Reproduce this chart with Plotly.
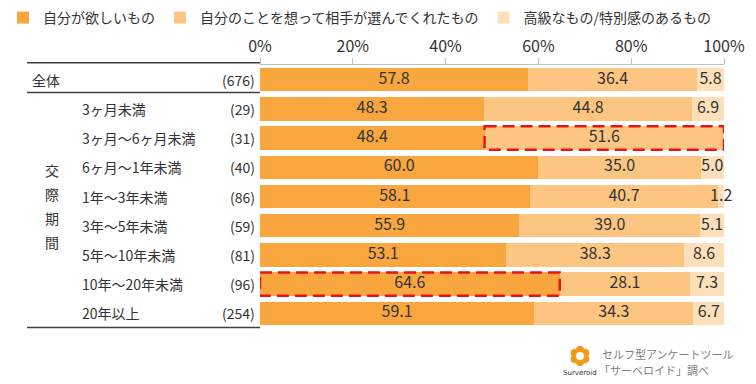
import math
import plotly.graph_objects as go

# ---- data ----
row_labels = ["全体", "3ヶ月未満", "3ヶ月～6ヶ月未満", "6ヶ月～1年未満", "1年～3年未満",
              "3年～5年未満", "5年～10年未満", "10年～20年未満", "20年以上"]
row_counts = ["(676)", "(29)", "(31)", "(40)", "(86)", "(59)", "(81)", "(96)", "(254)"]
series_names = ["自分が欲しいもの", "自分のことを想って相手が選んでくれたもの", "高級なもの/特別感のあるもの"]
s1 = [57.8, 48.3, 48.4, 60.0, 58.1, 55.9, 53.1, 64.6, 59.1]
s2 = [36.4, 44.8, 51.6, 35.0, 40.7, 39.0, 38.3, 28.1, 34.3]
s3 = [5.8, 6.9, 0.0, 5.0, 1.2, 5.1, 8.6, 7.3, 6.7]
tick_vals = [0, 20, 40, 60, 80, 100]
tick_text = ["0%", "20%", "40%", "60%", "80%", "100%"]
group_label = "交際期間"
highlights = [(2, 1), (7, 0)]  # (row index, series index)

colors = ["#F9A63E", "#FCC682", "#FDE0BA"]
FONT = "Noto Sans CJK JP"
TXT = "#333333"

W, H = 756, 384
ML, MR, MT, MB = 260, 32, 65, 56
PW, PH = W - ML - MR, H - MT - MB


def px_x(p):
    return (p - ML) / PW


def px_y(p):
    return (H - MB - p) / PH


rows = list(range(len(row_labels)))
series = [s1, s2, s3]

fig = go.Figure()
for name, vals, col in zip(series_names, series, colors):
    fig.add_trace(go.Bar(
        y=rows, x=vals, name=name, orientation="h", width=0.8,
        marker=dict(color=col, line=dict(width=0)),
        textposition="none", hoverinfo="skip",
    ))

# data labels, centred in each segment
base = [0.0] * len(rows)
for vals in series:
    xs, ys, ts = [], [], []
    for i, v in enumerate(vals):
        if v > 0:
            xs.append(base[i] + v / 2)
            ys.append(i)
            ts.append("%.1f" % v)
        base[i] += v
    fig.add_trace(go.Scatter(
        x=xs, y=ys, text=ts, mode="text", showlegend=False, hoverinfo="skip",
        textfont=dict(size=16, color=TXT, family=FONT), cliponaxis=False,
    ))

annotations = []
for i, (lab, cnt) in enumerate(zip(row_labels, row_counts)):
    annotations.append(dict(
        x=px_x(30 if i == 0 else 80), xref="paper", y=i, yref="y",
        text=lab, showarrow=False, xanchor="left", yanchor="middle",
        font=dict(size=14, color=TXT, family=FONT)))
    annotations.append(dict(
        x=px_x(257), xref="paper", y=i, yref="y",
        text=cnt, showarrow=False, xanchor="right", yanchor="middle",
        font=dict(size=14, color=TXT, family=FONT)))

char_y = [170, 194, 218, 242]
for ch, py in zip(group_label, char_y):
    annotations.append(dict(
        x=px_x(52), xref="paper", y=px_y(py), yref="paper",
        text=ch, showarrow=False, xanchor="center", yanchor="middle",
        font=dict(size=14, color=TXT, family=FONT)))

# source credit
annotations.append(dict(
    x=px_x(600), xref="paper", y=px_y(354), yref="paper",
    text="セルフ型アンケートツール", showarrow=False, xanchor="left", yanchor="middle",
    font=dict(size=11, color="#808080", family=FONT)))
annotations.append(dict(
    x=px_x(597), xref="paper", y=px_y(370), yref="paper",
    text="「サーベロイド」調べ", showarrow=False, xanchor="left", yanchor="middle",
    font=dict(size=11, color="#808080", family=FONT)))
annotations.append(dict(
    x=px_x(580), xref="paper", y=px_y(373), yref="paper",
    text="Surveroid", showarrow=False, xanchor="center", yanchor="middle",
    font=dict(size=7, color="#333333", family="DejaVu Sans")))

shapes = []
# table rules
for py in [62.7, 92.5, 327.5]:
    shapes.append(dict(type="line", xref="paper", yref="paper",
                       x0=px_x(27), x1=0, y0=px_y(py), y1=px_y(py),
                       line=dict(color="#404040", width=1.5)))

# highlight boxes
for r, s in highlights:
    x0 = sum(series[k][r] for k in range(s))
    x1 = x0 + series[s][r]
    shapes.append(dict(type="rect", xref="x", yref="y", x0=x0, x1=x1,
                       y0=r - 0.4, y1=r + 0.4,
                       line=dict(color="#E8141B", width=2.5, dash="12px,6px"),
                       fillcolor="rgba(0,0,0,0)"))

# logo (flower)
cx, cy = 580, 356
for k in range(6):
    a = math.pi / 2 + k * math.pi / 3
    px_, py_ = cx + 6 * math.cos(a), cy - 6 * math.sin(a)
    shapes.append(dict(type="circle", xref="paper", yref="paper",
                       x0=px_x(px_ - 4.2), x1=px_x(px_ + 4.2),
                       y0=px_y(py_ + 4.2), y1=px_y(py_ - 4.2),
                       fillcolor="#F39A1E", line=dict(width=0)))
shapes.append(dict(type="circle", xref="paper", yref="paper",
                   x0=px_x(cx - 4), x1=px_x(cx + 4), y0=px_y(cy + 4), y1=px_y(cy - 4),
                   fillcolor="white", line=dict(width=0)))

fig.update_layout(
    width=W, height=H, barmode="stack", bargap=0.2,
    margin=dict(l=ML, r=MR, t=MT, b=MB, autoexpand=False),
    paper_bgcolor="white", plot_bgcolor="white",
    font=dict(family=FONT, color=TXT),
    xaxis=dict(side="top", range=[0, 100], tickvals=tick_vals, ticktext=tick_text,
               showgrid=False, zeroline=False, showline=True, linecolor="#BFBFBF",
               linewidth=1, ticks="outside", ticklen=6, tickcolor="#BFBFBF",
               tickfont=dict(size=16, color=TXT, family=FONT), fixedrange=True),
    yaxis=dict(range=[8.5, -0.5], showticklabels=False, showgrid=False,
               zeroline=False, showline=False, ticks="", fixedrange=True),
    legend=dict(orientation="h", x=px_x(3), xanchor="left", y=px_y(18), yanchor="middle",
                font=dict(size=14, color=TXT, family=FONT), traceorder="normal",
                bgcolor="rgba(0,0,0,0)"),
    annotations=annotations, shapes=shapes,
)

fig.write_html("out.html", config={"displayModeBar": False},
               post_script="document.body.style.margin='0px';document.body.style.overflow='hidden';")
